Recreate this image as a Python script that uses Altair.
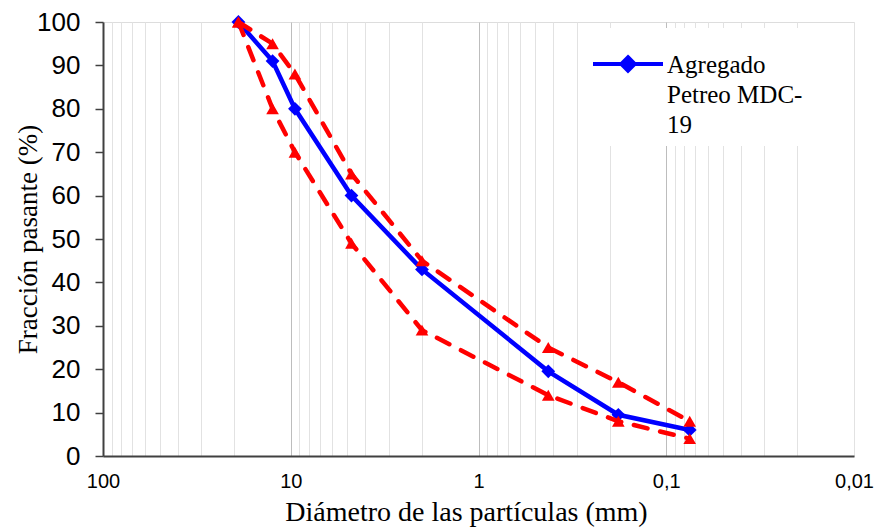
import altair as alt
import pandas as pd

# Sieve sizes (mm) and percent passing
tamiz = [19, 12.5, 9.5, 4.75, 2.0, 0.425, 0.18, 0.075]
agregado = [100, 91, 80, 60, 43, 19.5, 9.5, 6]
limite_sup = [100, 95, 88, 65, 45, 25, 17, 8]
limite_inf = [100, 80, 70, 49, 29, 14, 8, 4]

serie_nombre = "Agregado Petreo MDC-19"

# log grid values (1..9 x 10^k)
grid_vals = [m * 10.0 ** k for k in range(-2, 2) for m in range(1, 10)] + [100]
grid_vals = [round(v, 4) for v in grid_vals]
y_ticks = list(range(0, 101, 10))

df_ag = pd.DataFrame({"d": tamiz, "p": agregado, "serie": serie_nombre})
df_sup = pd.DataFrame({"d": tamiz, "p": limite_sup})
df_inf = pd.DataFrame({"d": tamiz, "p": limite_inf})

x_enc = alt.X(
    "d:Q",
    scale=alt.Scale(type="log", domain=[0.01, 100], reverse=True, nice=False),
    axis=alt.Axis(
        values=grid_vals,
        title="Diámetro de las partículas (mm)",
        titleFont="Liberation Serif",
        titleFontSize=28,
        titleFontWeight="normal",
        titleColor="black",
        titleX=363,
        titleY=64,
        titleBaseline="alphabetic",
        labelExpr="indexof([100,10,1,0.1,0.01], datum.value) >= 0 ? replace(toString(datum.value), '.', ',') : ''",
        labelFont="Liberation Sans",
        labelFontSize=20,
        labelColor="black",
        labelPadding=15,
        labelOverlap=False,
        labelBound=False,
        labelFlush=False,
        ticks=False,
        grid=True,
        gridColor={
            "condition": {
                "test": "datum.value == 10 || datum.value == 1 || datum.value == 0.1",
                "value": "#BDBDBD",
            },
            "value": "#E2E2E2",
        },
        gridWidth=1,
        domainColor="#404040",
        domainWidth=2,
    ),
)

y_enc = alt.Y(
    "p:Q",
    scale=alt.Scale(domain=[0, 100], nice=False),
    axis=alt.Axis(
        values=y_ticks,
        title="Fracción pasante (%)",
        titleFont="Liberation Serif",
        titleFontSize=27,
        titleFontWeight="normal",
        titleColor="black",
        titleX=-75,
        titleY=217,
        titleAngle=-90,
        titleBaseline="middle",
        labelFont="Liberation Sans",
        labelFontSize=26,
        labelColor="black",
        labelPadding=15,
        tickSize=8,
        tickColor="#404040",
        tickWidth=1.5,
        grid=False,
        domainColor="#404040",
        domainWidth=2,
    ),
)

legend = alt.Legend(
    title=None,
    orient="none",
    legendX=480,
    legendY=6,
    fillColor="white",
    padding=8,
    symbolType="M-1,-0.26L1,-0.26M0,-0.45L0.19,-0.26L0,-0.07L-0.19,-0.26Z",
    symbolSize=4900,
    symbolStrokeWidth=4,
    symbolFillColor="#0000FF",
    symbolStrokeColor="#0000FF",
    labelExpr="['Agregado', 'Petreo MDC-', '19']",
    labelFont="Liberation Serif",
    labelFontSize=25,
    labelColor="black",
    labelBaseline="alphabetic",
    labelOffset=2,
    labelLimit=400,
)

color_enc = alt.Color(
    "serie:N",
    scale=alt.Scale(domain=[serie_nombre], range=["#0000FF"]),
    legend=legend,
)

blue_line = alt.Chart(df_ag).mark_line(strokeWidth=4.5).encode(x=x_enc, y=y_enc, color=color_enc)
blue_pts = alt.Chart(df_ag).mark_point(
    shape="diamond", filled=True, size=190, opacity=1
).encode(x=x_enc, y=y_enc, color=alt.value("#0000FF"))

def red_layer(df):
    line = alt.Chart(df).mark_line(
        strokeWidth=4.5, strokeDash=[14, 13], strokeCap="round", color="#FF0000"
    ).encode(x=x_enc, y=y_enc)
    pts = alt.Chart(df).mark_point(
        shape="triangle-up", filled=True, size=160, opacity=1, color="#FF0000"
    ).encode(x=x_enc, y=y_enc)
    return line + pts

chart = alt.layer(
    blue_line, blue_pts, red_layer(df_sup), red_layer(df_inf)
).properties(
    width=751,
    height=434,
    autosize=alt.AutoSizeParams(type="none"),
    padding={"left": 103, "top": 22, "right": 23, "bottom": 73},
    background="white",
).configure_view(
    stroke="#404040", strokeWidth=2
).configure(
    style={"guide-label": {"lineHeight": 30}}
)

chart.save("out.html", embed_options={"renderer": "svg", "actions": False})
